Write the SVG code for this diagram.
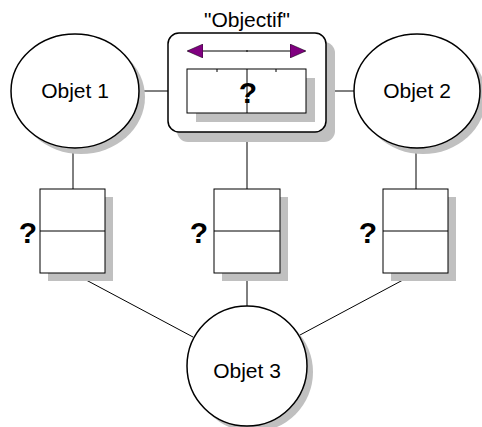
<svg xmlns="http://www.w3.org/2000/svg" width="482" height="427" viewBox="0 0 482 427">
<defs>
<marker id="ah" viewBox="0 0 16 14" refX="15" refY="7" markerWidth="16" markerHeight="14" markerUnits="userSpaceOnUse" orient="auto-start-reverse">
<path d="M0,0 L16,7 L0,14 Z" fill="#800080" stroke="#000" stroke-width="0.5"/>
</marker>
</defs>
<style>
.sh{fill:#c0c0c0;stroke:none}
.sh2{fill:#c8c8c8;stroke:none}
.nd{fill:#fff;stroke:#000;stroke-width:1.5}
.bx{fill:#fff;stroke:#000;stroke-width:1}
.ln{stroke:#000;stroke-width:1;fill:none}
.lbl{font-family:"Liberation Sans",Arial,sans-serif;font-size:21px;fill:#000;text-anchor:middle}
.q{font-family:"Liberation Sans",Arial,sans-serif;font-size:30px;font-weight:bold;fill:#000;text-anchor:middle}
</style>
<rect width="482" height="427" fill="#fff"/>
<g id="connectors">
<line class="ln" x1="139" y1="91" x2="187" y2="91"/>
<line class="ln" x1="306" y1="91" x2="354" y2="91"/>
<line class="ln" x1="73" y1="148" x2="73" y2="189"/>
<line class="ln" x1="247" y1="132" x2="247" y2="189"/>
<line class="ln" x1="416" y1="148" x2="416" y2="189"/>
<line class="ln" x1="73" y1="273" x2="193" y2="337"/>
<line class="ln" x1="247" y1="273" x2="247" y2="307"/>
<line class="ln" x1="416" y1="273" x2="300" y2="335"/>
</g>
<g id="objet1">
<ellipse class="sh" cx="81" cy="97" rx="64" ry="57"/>
<ellipse class="nd" cx="75" cy="91" rx="64" ry="57"/>
<text class="lbl" x="75" y="98">Objet 1</text>
</g>
<g id="objet2">
<ellipse class="sh" cx="423" cy="97" rx="63" ry="57"/>
<ellipse class="nd" cx="417" cy="91" rx="63" ry="57"/>
<text class="lbl" x="417" y="98">Objet 2</text>
</g>
<g id="objectif">
<text class="lbl" x="247" y="27">"Objectif"</text>
<rect class="sh" x="177" y="42" width="158" height="100" rx="11"/>
<rect class="nd" x="168" y="33" width="158" height="99" rx="11"/>
<line class="ln" x1="188" y1="51" x2="305" y2="51" marker-start="url(#ah)" marker-end="url(#ah)"/>
<line class="ln" x1="247" y1="50" x2="247" y2="52"/>
<rect class="sh" x="196" y="78" width="119" height="44"/>
<rect class="bx" x="187" y="69" width="119" height="44"/>
<line class="ln" x1="247" y1="69" x2="247" y2="113"/>
<line class="ln" x1="217" y1="69" x2="217" y2="72"/>
<line class="ln" x1="276" y1="69" x2="276" y2="72"/>
<text class="q" x="248" y="103">?</text>
</g>
<g id="lien1">
<rect class="sh" x="48" y="197" width="65" height="84"/>
<rect class="bx" x="40" y="189" width="65" height="84"/>
<line class="ln" x1="40" y1="231" x2="105" y2="231"/>
<text class="q" x="28" y="243">?</text>
</g>
<g id="lien2">
<rect class="sh" x="222" y="197" width="66" height="84"/>
<rect class="bx" x="214" y="189" width="66" height="84"/>
<line class="ln" x1="214" y1="231" x2="280" y2="231"/>
<text class="q" x="199" y="243">?</text>
</g>
<g id="lien3">
<rect class="sh" x="391" y="197" width="65" height="84"/>
<rect class="bx" x="383" y="189" width="65" height="84"/>
<line class="ln" x1="383" y1="231" x2="448" y2="231"/>
<text class="q" x="368" y="243">?</text>
</g>
<g id="objet3">
<circle class="sh" cx="253" cy="372" r="60"/>
<circle class="nd" cx="247" cy="366" r="60"/>
<text class="lbl" x="247" y="378">Objet 3</text>
</g>
</svg>
